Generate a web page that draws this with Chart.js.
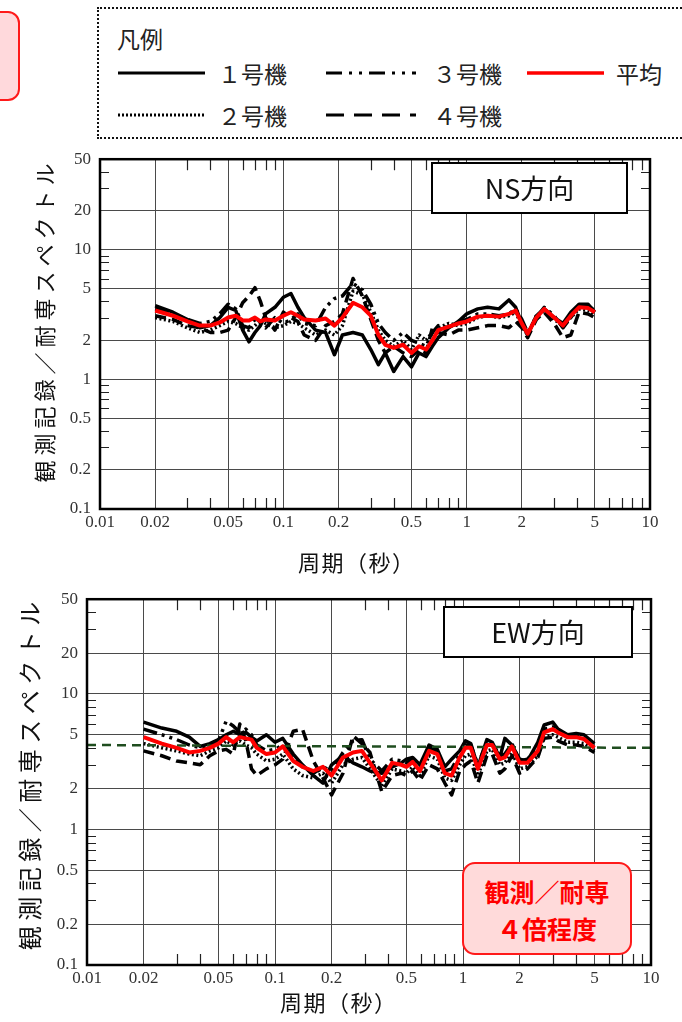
<!DOCTYPE html>
<html lang="ja">
<head>
<meta charset="utf-8">
<script src="https://cdn.jsdelivr.net/npm/chart.js@4.4.1/dist/chart.umd.min.js"></script>
<style>
  html, body { margin: 0; padding: 0; background: #fff; }
  body { width: 682px; height: 1022px; position: relative; overflow: hidden;
         font-family: "Noto Sans CJK JP", sans-serif; color: #111; }
  canvas { position: absolute; left: 0; }
  #ns { top: 140px; }
  #ew { top: 580px; }
  .pinkTab { position: absolute; left: -30px; top: 11px; width: 46px; height: 86px;
             border: 2px solid #ff1a1a; border-radius: 12px; background: #ffd9dc; }
  .legendBox { position: absolute; left: 97px; top: 7px; width: 620px; height: 128px;
               border: 2px dotted #111; }
  .lg { position: absolute; font-size: 23px; line-height: 26px; white-space: nowrap; color: #222; }
  .note { position: absolute; left: 462px; top: 862px; width: 166px;
          border: 2px solid #ff1a1a; border-radius: 13px; background: #ffdada;
          color: #ff0000; font-size: 25px; line-height: 37px; text-align: center;
          font-weight: bold; padding-top: 9px; box-sizing: content-box; height: 80px; }
</style>
</head>
<body>
<div class="pinkTab"></div>
<div class="legendBox"></div>
<svg width="682" height="140" style="position:absolute;left:0;top:0">
  <line x1="118" y1="73" x2="205" y2="73" stroke="#000" stroke-width="3"/>
  <line x1="118" y1="115" x2="205" y2="115" stroke="#000" stroke-width="3" stroke-dasharray="2 2"/>
  <line x1="326" y1="73" x2="416" y2="73" stroke="#000" stroke-width="3" stroke-dasharray="16 7 3 7 3 7"/>
  <line x1="326" y1="115" x2="416" y2="115" stroke="#000" stroke-width="3" stroke-dasharray="18 10"/>
  <line x1="527" y1="73" x2="604" y2="73" stroke="#ff0000" stroke-width="3.5"/>
</svg>
<div class="lg" style="left:117px;top:25px;">凡例</div>
<div class="lg" style="left:218px;top:60px;">１号機</div>
<div class="lg" style="left:433px;top:60px;">３号機</div>
<div class="lg" style="left:616px;top:60px;">平均</div>
<div class="lg" style="left:218px;top:102px;">２号機</div>
<div class="lg" style="left:433px;top:102px;">４号機</div>

<canvas id="ns" width="682" height="450"></canvas>
<canvas id="ew" width="682" height="442"></canvas>

<div class="note">観測／耐専<br>４倍程度</div>

<script>
// axis ticks
const xTickValues = [0.01, 0.02, 0.05, 0.1, 0.2, 0.5, 1, 2, 5, 10];
const xTickLabels = ['0.01', '0.02', '0.05', '0.1', '0.2', '0.5', '1', '2', '5', '10'];
const yTickValues = [0.1, 0.2, 0.5, 1, 2, 5, 10, 20, 50];
const yTickLabels = ['0.1', '0.2', '0.5', '1', '2', '5', '10', '20', '50'];
const xMinorTicks = [0.03, 0.04, 0.06, 0.07, 0.08, 0.09, 0.3, 0.4, 0.6, 0.7, 0.8, 0.9, 3, 4, 6, 7, 8, 9];
const yMinorTicks = [0.3, 0.4, 0.6, 0.7, 0.8, 0.9, 3, 4, 6, 7, 8, 9, 30, 40];

// NS direction (period in s, ratio observed / Noda spectrum)
const nsPeriod = [0.02, 0.025, 0.03, 0.035, 0.04, 0.045, 0.05, 0.055, 0.06, 0.065, 0.07, 0.075, 0.08, 0.09, 0.1, 0.11, 0.12, 0.13, 0.15, 0.17, 0.19, 0.21, 0.24, 0.27, 0.3, 0.33, 0.36, 0.4, 0.45, 0.5, 0.55, 0.6, 0.65, 0.7, 0.8, 0.9, 1.0, 1.15, 1.3, 1.5, 1.7, 1.85, 2.0, 2.15, 2.4, 2.65, 3.0, 3.35, 3.7, 4.1, 4.6, 5.0];
const nsUnit1 = [3.7, 3.3, 2.9, 2.5, 2.6, 3.0, 3.6, 3.4, 2.4, 1.95, 2.3, 2.6, 3.2, 3.6, 4.3, 4.6, 3.6, 3.0, 2.4, 2.3, 1.55, 2.2, 2.3, 2.2, 1.7, 1.3, 1.6, 1.15, 1.5, 1.25, 1.6, 1.5, 1.8, 2.1, 2.5, 2.8, 3.2, 3.5, 3.6, 3.5, 4.1, 3.6, 2.7, 2.2, 3.1, 3.5, 3.0, 2.7, 3.3, 3.8, 3.8, 3.3];
const nsUnit2 = [3.0, 2.8, 2.5, 2.3, 2.4, 2.6, 2.8, 2.7, 2.5, 2.4, 2.6, 2.9, 2.7, 2.5, 2.6, 2.8, 2.7, 2.5, 2.2, 2.4, 2.2, 2.6, 4.8, 4.5, 3.3, 2.4, 2.0, 1.8, 2.0, 1.7, 2.2, 2.0, 2.3, 2.5, 2.7, 2.6, 2.7, 3.0, 3.1, 3.0, 3.1, 3.3, 2.6, 2.2, 3.1, 3.4, 2.9, 2.6, 3.0, 3.5, 3.4, 3.1];
const nsUnit3 = [3.5, 3.2, 2.9, 2.7, 2.8, 3.2, 3.8, 3.5, 2.6, 2.5, 2.9, 2.7, 2.5, 3.0, 2.7, 2.9, 3.2, 2.7, 2.6, 3.6, 4.2, 4.4, 5.5, 4.9, 3.8, 2.7, 2.3, 2.0, 2.3, 2.0, 1.9, 1.8, 2.3, 2.6, 2.5, 2.8, 2.9, 3.2, 3.2, 3.1, 3.2, 3.5, 2.9, 2.3, 3.0, 3.6, 3.1, 2.5, 3.0, 3.7, 3.7, 3.4];
const nsUnit4 = [3.1, 2.9, 2.6, 2.5, 2.3, 2.3, 2.4, 3.0, 3.9, 4.4, 5.1, 4.0, 3.0, 2.4, 3.3, 3.0, 2.8, 2.2, 2.0, 2.6, 2.8, 3.2, 6.0, 4.4, 2.9, 2.0, 1.6, 1.8, 1.6, 1.5, 1.7, 1.6, 2.5, 2.3, 2.2, 2.4, 2.4, 2.5, 2.6, 2.6, 2.5, 2.8, 2.5, 2.1, 2.9, 3.3, 2.7, 2.1, 2.2, 3.3, 3.2, 3.0];
const nsMean = [3.4, 3.1, 2.8, 2.6, 2.6, 2.75, 3.0, 3.1, 2.85, 2.85, 3.0, 2.8, 2.9, 2.85, 3.1, 3.3, 3.1, 2.9, 2.85, 2.95, 2.6, 3.0, 3.9, 3.6, 3.1, 2.2, 1.85, 1.75, 1.85, 1.6, 1.8, 1.7, 2.0, 2.4, 2.55, 2.7, 2.8, 3.05, 3.1, 3.05, 3.2, 3.4, 2.7, 2.25, 3.0, 3.5, 3.0, 2.6, 3.1, 3.6, 3.55, 3.3];

// EW direction
const ewPeriod = [0.02, 0.025, 0.03, 0.035, 0.04, 0.045, 0.05, 0.055, 0.06, 0.065, 0.07, 0.075, 0.08, 0.09, 0.1, 0.11, 0.125, 0.14, 0.16, 0.18, 0.2, 0.23, 0.26, 0.29, 0.32, 0.37, 0.42, 0.47, 0.5, 0.54, 0.59, 0.66, 0.73, 0.8, 0.87, 0.96, 1.03, 1.1, 1.2, 1.34, 1.43, 1.57, 1.67, 1.82, 2.0, 2.2, 2.5, 2.7, 3.0, 3.2, 3.6, 4.0, 4.4, 5.0];
const ewUnit1 = [6.2, 5.6, 5.3, 4.8, 4.1, 4.3, 4.6, 5.0, 5.3, 5.0, 5.2, 4.8, 4.5, 5.0, 4.4, 4.7, 3.6, 3.0, 2.5, 2.2, 3.0, 3.5, 3.1, 2.9, 2.7, 2.6, 2.9, 3.1, 3.3, 3.4, 3.0, 4.2, 3.9, 2.9, 3.3, 3.8, 4.5, 4.3, 2.9, 4.6, 4.4, 3.4, 4.7, 4.2, 3.3, 3.2, 4.4, 5.9, 6.2, 5.5, 5.0, 5.1, 5.0, 4.3];
const ewUnit2 = [4.3, 4.0, 3.8, 3.6, 3.5, 3.8, 4.0, 4.5, 4.2, 4.5, 4.2, 4.0, 3.6, 3.2, 3.3, 3.6, 2.8, 2.5, 2.4, 2.6, 2.2, 3.0, 3.3, 3.4, 2.8, 2.1, 2.8, 2.7, 2.6, 2.9, 2.5, 3.5, 3.3, 2.4, 2.3, 3.0, 3.5, 3.6, 2.5, 3.8, 3.9, 3.0, 3.1, 3.7, 2.8, 2.9, 3.5, 4.8, 5.0, 4.8, 4.4, 4.4, 4.3, 3.8];
const ewUnit3 = [5.5, 5.0, 4.6, 4.2, 4.0, 4.2, 4.5, 6.3, 5.8, 5.2, 5.5, 5.0, 4.2, 3.8, 3.9, 4.2, 3.3, 2.9, 2.6, 2.9, 2.7, 3.7, 4.5, 4.6, 3.3, 2.7, 3.3, 3.2, 3.1, 3.3, 2.9, 4.0, 3.8, 2.7, 2.8, 3.6, 4.2, 4.2, 3.0, 4.4, 4.3, 3.5, 3.6, 4.3, 3.2, 3.3, 4.0, 5.5, 5.7, 5.3, 4.8, 4.9, 4.8, 4.1];
const ewUnit4 = [3.8, 3.5, 3.2, 3.1, 3.0, 3.5, 3.8, 3.9, 3.6, 6.0, 4.5, 2.8, 2.5, 2.8, 3.0, 3.3, 5.3, 5.5, 3.2, 2.4, 1.8, 2.6, 4.9, 4.3, 3.7, 1.9, 2.5, 2.6, 2.5, 2.7, 2.3, 3.0, 2.8, 2.2, 1.8, 2.7, 3.0, 3.2, 2.2, 3.5, 3.6, 2.6, 2.8, 3.5, 2.6, 2.8, 3.4, 4.7, 4.8, 4.5, 4.2, 4.2, 4.1, 3.7];
const ewMean = [4.8, 4.3, 4.0, 3.7, 3.8, 4.0, 4.3, 4.8, 4.4, 4.8, 4.7, 4.6, 4.0, 3.6, 3.7, 4.1, 3.2, 2.9, 2.7, 2.9, 2.5, 3.4, 3.7, 3.8, 3.1, 2.3, 3.1, 3.0, 2.9, 3.15, 2.7, 3.8, 3.6, 2.6, 2.5, 3.4, 4.0, 4.0, 2.8, 4.2, 4.2, 3.3, 3.4, 4.1, 3.1, 3.1, 3.8, 5.2, 5.5, 5.2, 4.8, 4.8, 4.65, 4.0];
// "about 4 times" reference line
const ewRefPeriod = [0.01, 10];
const ewRefValue = [4.2, 4.0];

const toXY = (xs, ys) => xs.map((x, i) => ({ x: x, y: ys[i] }));

// draws a string character by character with extra spacing
function drawSpaced(ctx, text, cx, cy, size, gap, rotated) {
  ctx.save();
  ctx.font = size + 'px "Noto Sans CJK JP", sans-serif';
  ctx.fillStyle = '#111';
  ctx.textBaseline = 'middle';
  ctx.textAlign = 'left';
  const chars = Array.from(text);
  const widths = chars.map(c => ctx.measureText(c).width);
  const total = widths.reduce((a, b) => a + b, 0) + gap * (chars.length - 1);
  ctx.translate(cx, cy);
  if (rotated) ctx.rotate(-Math.PI / 2);
  let pos = -total / 2;
  chars.forEach((c, i) => {
    ctx.fillText(c, pos, 0);
    pos += widths[i] + gap;
  });
  ctx.restore();
}

const framePlugin = {
  id: 'frame',
  beforeDatasetsDraw(chart, args, opts) {
    const { ctx, chartArea: a, scales: { x, y } } = chart;
    ctx.save();
    ctx.strokeStyle = '#222';
    ctx.lineWidth = 1.2;
    ctx.beginPath();
    xMinorTicks.forEach(v => {
      const px = Math.round(x.getPixelForValue(v)) + 0.5;
      ctx.moveTo(px, a.top); ctx.lineTo(px, a.top + 11);
      ctx.moveTo(px, a.bottom); ctx.lineTo(px, a.bottom - 11);
    });
    yMinorTicks.forEach(v => {
      const py = Math.round(y.getPixelForValue(v)) + 0.5;
      ctx.moveTo(a.left, py); ctx.lineTo(a.left + 9, py);
      ctx.moveTo(a.right, py); ctx.lineTo(a.right - 9, py);
    });
    ctx.stroke();
    ctx.restore();
  },
  afterDraw(chart, args, opts) {
    const { ctx, chartArea: a } = chart;
    ctx.save();
    ctx.strokeStyle = '#000';
    ctx.lineWidth = 2.5;
    ctx.strokeRect(a.left, a.top, a.right - a.left, a.bottom - a.top);
    // direction label box
    const b = opts.box;
    ctx.fillStyle = '#fff';
    ctx.fillRect(b.x, b.y, b.w, b.h);
    ctx.lineWidth = 2;
    ctx.strokeRect(b.x, b.y, b.w, b.h);
    ctx.fillStyle = '#111';
    ctx.font = '27px "Noto Sans CJK JP", sans-serif';
    ctx.textAlign = 'center';
    ctx.textBaseline = 'middle';
    ctx.fillText(b.text, b.x + b.w / 2, b.y + b.h / 2 + 1);
    ctx.restore();
    drawSpaced(ctx, '周期（秒）', opts.xTitle.x, opts.xTitle.y, 22, 1.5, false);
    drawSpaced(ctx, '観測記録／耐専スペクトル', opts.yTitle.x, opts.yTitle.y, opts.yTitle.size, opts.yTitle.gap, true);
  }
};

function buildChart(canvasId, periods, units, mean, extra, geo) {
  const datasets = [
    { data: toXY(periods, mean), borderColor: '#ff0000', borderWidth: 4 },
  ];
  if (extra) datasets.push(extra);
  const dashes = [[], [2, 2.5], [14, 5, 3, 5, 3, 5], [11, 6]];
  units.forEach((u, i) => {
    datasets.push({ data: toXY(periods, u), borderColor: '#000', borderWidth: 3.5, borderDash: dashes[i] });
  });
  datasets.forEach(d => {
    d.pointRadius = 0;
    d.tension = 0;
    d.borderJoinStyle = 'round';
    d.fill = false;
  });

  return new Chart(document.getElementById(canvasId), {
    type: 'line',
    data: { datasets: datasets },
    plugins: [framePlugin],
    options: {
      responsive: false,
      animation: false,
      layout: { padding: { left: 0, right: geo.right, top: geo.top, bottom: 0 } },
      plugins: {
        legend: { display: false },
        tooltip: { enabled: false },
        frame: geo.frame,
      },
      scales: {
        x: {
          type: 'logarithmic',
          min: 0.01,
          max: 10,
          afterBuildTicks: s => { s.ticks = xTickValues.map(v => ({ value: v })); },
          afterFit: s => { s.height = geo.xHeight; },
          ticks: {
            autoSkip: false,
            maxRotation: 0,
            padding: 3,
            color: '#333',
            font: { family: '"Liberation Serif", serif', size: 17 },
            callback: (v, i) => xTickLabels[i],
          },
          grid: { color: '#4a4a4a', lineWidth: 1, drawTicks: false },
          border: { display: false },
        },
        y: {
          type: 'logarithmic',
          min: 0.1,
          max: 50,
          afterBuildTicks: s => { s.ticks = yTickValues.map(v => ({ value: v })); },
          afterFit: s => { s.width = geo.yWidth; },
          ticks: {
            autoSkip: false,
            padding: 9,
            color: '#333',
            font: { family: '"Liberation Serif", serif', size: 17 },
            callback: (v, i) => yTickLabels[i],
          },
          grid: { color: '#4a4a4a', lineWidth: 1, drawTicks: false },
          border: { display: false },
        },
      },
    },
  });
}

const nsChart = buildChart('ns', nsPeriod, [nsUnit1, nsUnit2, nsUnit3, nsUnit4], nsMean, null, {
  right: 32, top: 12, xHeight: 81, yWidth: 100,
  frame: {
    box: { x: 432, y: 23, w: 195, h: 50, text: 'NS方向' },
    xTitle: { x: 356, y: 423 },
    yTitle: { x: 45, y: 183, size: 22, gap: 5 },
  },
});

const ewChart = buildChart('ew', ewPeriod, [ewUnit1, ewUnit2, ewUnit3, ewUnit4], ewMean, {
  data: toXY(ewRefPeriod, ewRefValue), borderColor: '#1f4d1f', borderWidth: 2.5, borderDash: [9, 6],
}, {
  right: 31, top: 13, xHeight: 57, yWidth: 87,
  frame: {
    box: { x: 444, y: 27, w: 188, h: 50, text: 'EW方向' },
    xTitle: { x: 338, y: 423 },
    yTitle: { x: 30, y: 196, size: 24, gap: 5.5 },
  },
});
</script>
</body>
</html>
